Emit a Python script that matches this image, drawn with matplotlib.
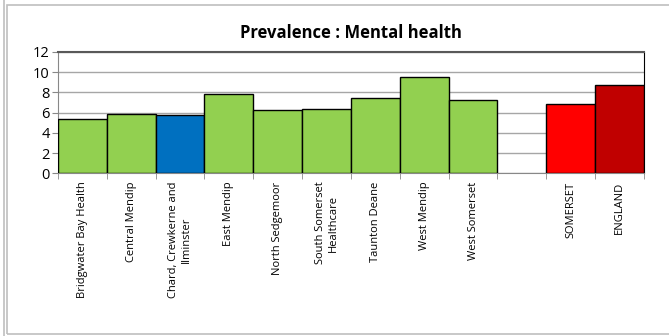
import numpy as np
import matplotlib.pyplot as plt
from matplotlib.patches import Rectangle
from matplotlib.lines import Line2D

# Datos
categorias = ['Bridgwater Bay Health', 'Central Mendip', 'Chard, Crewkerne and\nIlminster',
              'East Mendip', 'North Sedgemoor', 'South Somerset\nHealthcare', 'Taunton Deane',
              'West Mendip', 'West Somerset', '', 'SOMERSET', 'ENGLAND']
valores = [5.33, 5.85, 5.75, 7.82, 6.21, 6.31, 7.43, 9.5, 7.26, np.nan, 6.8, 8.68]
colores = ['#92D050', '#92D050', '#0070C0', '#92D050', '#92D050', '#92D050', '#92D050',
           '#92D050', '#92D050', 'none', '#FF0000', '#C00000']
yticks = [0, 2, 4, 6, 8, 10, 12]

plt.rcParams['font.family'] = ['Open Sans', 'DejaVu Sans']

fig = plt.figure(figsize=(6.69, 3.36), dpi=100)
ax = fig.add_axes([0.0867, 0.484, 0.8759, 0.362])

x = np.arange(len(categorias))
ax.bar(x, valores, width=1.0, color=colores, edgecolor='black', linewidth=1.0, zorder=3)

ax.set_xlim(-0.5, len(categorias) - 0.5)
ax.set_ylim(0, 12)
ax.set_yticks(yticks)
ax.tick_params(axis='y', labelsize=10.5, length=4, color='#888888', pad=2)
ax.yaxis.grid(True, color='#a6a6a6', linewidth=1.0, zorder=0)

ax.set_xticks(x)
ax.set_xticklabels(categorias, rotation=90, fontsize=8, va='top', ha='center',
                   multialignment='center')
ax.tick_params(axis='x', length=0, pad=6)
ax.set_xticks(np.arange(-0.5, len(categorias), 1.0), minor=True)
ax.tick_params(axis='x', which='minor', length=4, color='#888888')

for s in ['left', 'bottom']:
    ax.spines[s].set_color('#888888')
ax.spines['top'].set_color('#595959')
ax.spines['top'].set_linewidth(1.5)
ax.spines['right'].set_color('black')

ax.set_title('Prevalence : Mental health', fontsize=12, fontweight='bold', pad=10)

# Marco exterior
fig.patches.append(Rectangle((7 / 669, 2 / 336), 670 / 669, 329 / 336, transform=fig.transFigure,
                             fill=False, edgecolor='#bfbfbf', linewidth=1.2))
fig.lines.append(Line2D([3.5 / 669, 3.5 / 669], [0, 1], transform=fig.transFigure,
                        color='#bfbfbf', linewidth=1.2))

fig.savefig('out.png', dpi=100)
